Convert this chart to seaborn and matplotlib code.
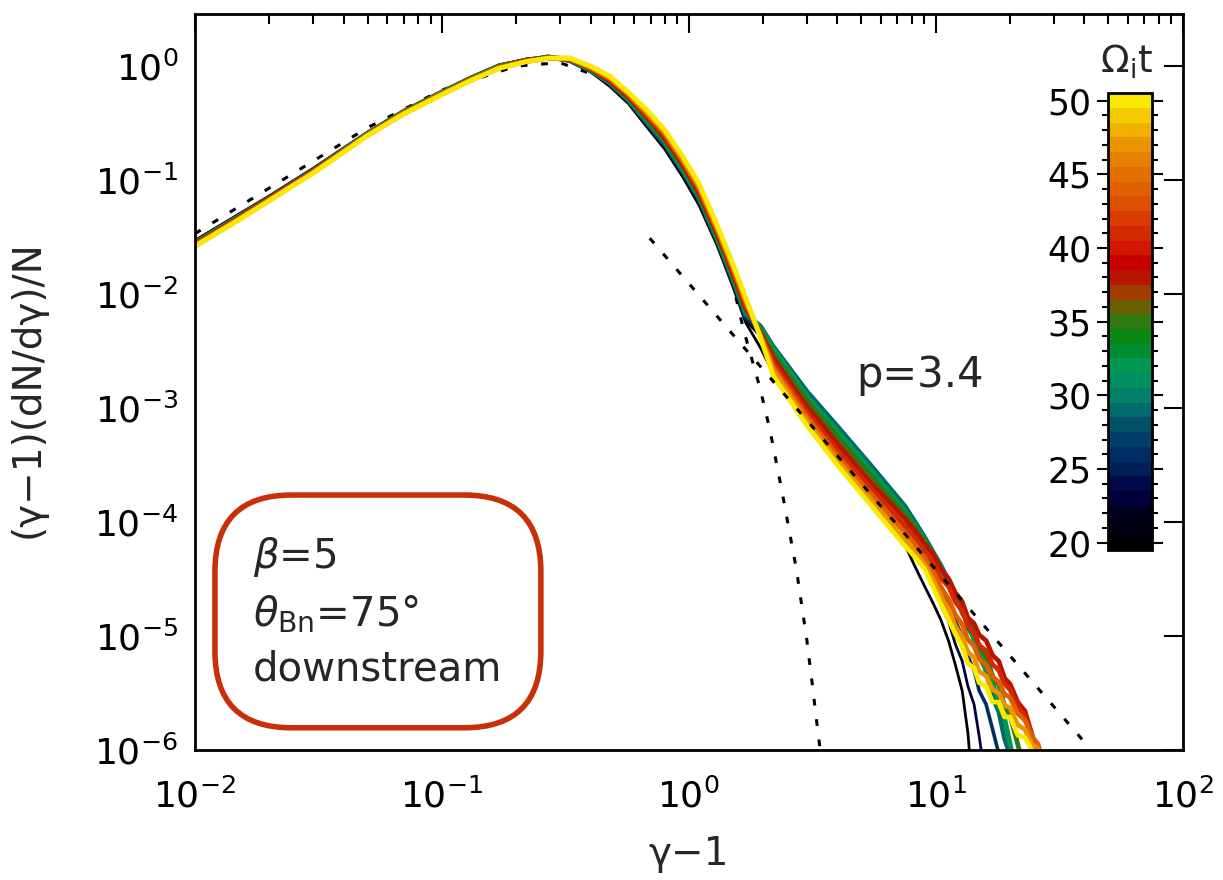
import numpy as np
import pandas as pd
import matplotlib
matplotlib.use("Agg")
import matplotlib.pyplot as plt
import seaborn as sns
from matplotlib.colors import ListedColormap, BoundaryNorm
from matplotlib.cm import ScalarMappable
from matplotlib.ticker import LogLocator, NullLocator, FixedLocator

sns.set_theme(style="white")
plt.rcParams['font.family'] = ['DejaVu Sans']
plt.rcParams['mathtext.fontset'] = 'dejavusans'

# ==========================
# Data (values are log10 of (g-1) dN/dg / N)
# ==========================

# thermal part, then the tail
gamma_m1 = [0.01, 0.015, 0.02, 0.03, 0.05, 0.07, 0.1, 0.13, 0.17, 0.22, 0.27,
            0.33, 0.4, 0.48, 0.57, 0.68, 0.8, 0.95, 1.1, 1.3, 1.5, 1.7,
            1.95, 2.2, 2.6, 3.0, 4.0, 5.5, 7.5, 8.2, 9.0, 9.8, 10.5, 11.3, 12,
            12.8, 13.5, 14.3, 15, 16, 17, 18, 19, 20, 21.5, 23, 24.5, 26, 27.5, 29]

nan = np.nan
logf_t20 = [-1.53, -1.30, -1.14, -0.90, -0.58, -0.39, -0.22, -0.10, 0.01, 0.06, 0.08,
            0.04, -0.05, -0.18, -0.33, -0.54, -0.73, -0.98, -1.22, -1.57, -1.92, -2.25,
            -2.47, -2.70, -2.92, -3.10, -3.45, -3.82, -4.20, -4.38, -4.56, -4.72, -4.86,
            -5.05, -5.25, -5.48, -5.85, -6.5, nan, nan, nan, nan, nan, nan, nan, nan,
            nan, nan, nan, nan]
logf_t23 = [-1.53, -1.31, -1.14, -0.90, -0.58, -0.39, -0.22, -0.10, 0.01, 0.06, 0.08,
            0.04, -0.05, -0.17, -0.32, -0.53, -0.71, -0.96, -1.20, -1.55, -1.90, -2.23,
            -2.37, -2.58, -2.80, -2.98, -3.32, -3.68, -4.06, -4.20, -4.38, -4.54, -4.73,
            -4.88, -5.07, -5.22, -5.44, -5.60, -5.88, -6.3, nan, nan, nan, nan, nan, nan,
            nan, nan, nan, nan]
logf_t26 = [-1.54, -1.31, -1.15, -0.91, -0.59, -0.40, -0.23, -0.11, 0.00, 0.06, 0.08,
            0.05, -0.04, -0.16, -0.31, -0.51, -0.70, -0.94, -1.18, -1.53, -1.88, -2.21,
            -2.32, -2.50, -2.72, -2.90, -3.22, -3.58, -3.96, -4.10, -4.27, -4.41, -4.57,
            -4.71, -4.87, -5.00, -5.18, -5.30, -5.48, -5.60, -5.82, -6.03, -6.4, nan, nan,
            nan, nan, nan, nan, nan]
logf_t29 = [-1.55, -1.32, -1.15, -0.91, -0.59, -0.40, -0.23, -0.11, 0.00, 0.05, 0.08,
            0.05, -0.04, -0.15, -0.30, -0.50, -0.68, -0.93, -1.16, -1.52, -1.86, -2.18,
            -2.28, -2.46, -2.67, -2.85, -3.16, -3.51, -3.86, -3.99, -4.13, -4.27, -4.38,
            -4.52, -4.63, -4.74, -4.93, -5.01, -5.18, -5.30, -5.54, -5.66, -5.90, -6.05,
            -6.5, nan, nan, nan, nan, nan]
logf_t32 = [-1.55, -1.32, -1.16, -0.92, -0.59, -0.40, -0.23, -0.11, 0.00, 0.05, 0.08,
            0.05, -0.03, -0.14, -0.29, -0.48, -0.66, -0.91, -1.14, -1.50, -1.84, -2.16,
            -2.30, -2.48, -2.70, -2.89, -3.20, -3.55, -3.90, -4.02, -4.15, -4.29, -4.39,
            -4.54, -4.63, -4.80, -4.87, -5.04, -5.10, -5.31, -5.40, -5.61, -5.72, -5.94,
            -6.3, nan, nan, nan, nan, nan]
logf_t35 = [-1.56, -1.33, -1.16, -0.92, -0.60, -0.41, -0.24, -0.12, -0.01, 0.05, 0.08,
            0.06, -0.03, -0.14, -0.28, -0.47, -0.65, -0.89, -1.13, -1.48, -1.82, -2.14,
            -2.32, -2.52, -2.74, -2.93, -3.25, -3.60, -3.93, -4.04, -4.17, -4.28, -4.41,
            -4.51, -4.64, -4.73, -4.88, -4.96, -5.09, -5.18, -5.35, -5.43, -5.61, -5.70,
            -5.95, -6.2, nan, nan, nan, nan]
logf_t38 = [-1.56, -1.33, -1.16, -0.92, -0.60, -0.41, -0.24, -0.12, -0.01, 0.05, 0.07,
            0.06, -0.02, -0.13, -0.27, -0.45, -0.63, -0.87, -1.11, -1.46, -1.80, -2.12,
            -2.34, -2.56, -2.79, -2.98, -3.31, -3.66, -3.97, -4.07, -4.19, -4.29, -4.41,
            -4.50, -4.62, -4.70, -4.84, -4.89, -4.99, -5.04, -5.17, -5.22, -5.37, -5.42,
            -5.58, -5.66, -5.86, -6.1, nan, nan]
logf_t41 = [-1.57, -1.34, -1.17, -0.93, -0.60, -0.41, -0.24, -0.12, -0.01, 0.05, 0.07,
            0.06, -0.02, -0.12, -0.26, -0.44, -0.61, -0.85, -1.09, -1.44, -1.78, -2.10,
            -2.35, -2.60, -2.83, -3.03, -3.37, -3.71, -4.03, -4.13, -4.25, -4.36, -4.49,
            -4.57, -4.70, -4.78, -4.91, -4.97, -5.08, -5.13, -5.25, -5.30, -5.42, -5.47,
            -5.62, -5.70, -5.87, -5.99, -6.3, nan]
logf_t44 = [-1.57, -1.34, -1.17, -0.93, -0.60, -0.41, -0.24, -0.12, -0.01, 0.04, 0.07,
            0.06, -0.01, -0.11, -0.25, -0.42, -0.59, -0.84, -1.07, -1.43, -1.76, -2.07,
            -2.36, -2.64, -2.87, -3.07, -3.42, -3.76, -4.09, -4.19, -4.31, -4.44, -4.57,
            -4.68, -4.81, -4.90, -5.03, -5.09, -5.20, -5.25, -5.36, -5.40, -5.51, -5.54,
            -5.68, -5.74, -5.88, -5.95, -6.15, -6.5]
logf_t47 = [-1.58, -1.35, -1.18, -0.94, -0.61, -0.42, -0.25, -0.13, -0.02, 0.04, 0.07,
            0.07, -0.01, -0.10, -0.24, -0.41, -0.58, -0.82, -1.05, -1.41, -1.74, -2.05,
            -2.37, -2.67, -2.91, -3.11, -3.46, -3.81, -4.15, -4.25, -4.37, -4.51, -4.65,
            -4.77, -4.91, -5.01, -5.14, -5.19, -5.31, -5.35, -5.47, -5.50, -5.61, -5.63,
            -5.78, -5.82, -5.95, -5.99, -6.2, -6.6]
logf_t50 = [-1.58, -1.35, -1.18, -0.94, -0.61, -0.42, -0.25, -0.13, -0.02, 0.04, 0.07,
            0.07, 0.00, -0.09, -0.23, -0.39, -0.56, -0.80, -1.03, -1.39, -1.72, -2.03,
            -2.38, -2.72, -2.95, -3.15, -3.50, -3.86, -4.21, -4.30, -4.41, -4.58, -4.72,
            -4.86, -4.98, -5.09, -5.24, -5.28, -5.41, -5.44, -5.58, -5.58, -5.71, -5.71,
            -5.87, -5.89, -6.00, -6.05, -6.25, -6.6]

times = [20, 23, 26, 29, 32, 35, 38, 41, 44, 47, 50]
curves = [logf_t20, logf_t23, logf_t26, logf_t29, logf_t32, logf_t35,
          logf_t38, logf_t41, logf_t44, logf_t47, logf_t50]

# Maxwellian fit (dashed)
maxw_x = [0.01, 0.02, 0.05, 0.1, 0.2, 0.3, 0.45, 0.7, 1.0, 1.2, 1.44, 1.67,
          1.94, 2.13, 2.38, 2.73, 3.0, 3.15, 3.3, 3.45]
maxw_logf = [-1.47, -1.07, -0.54, -0.21, 0.0, 0.03, -0.105, -0.47, -0.91, -1.23,
             -1.73, -2.32, -2.82, -3.19, -3.72, -4.42, -5.02, -5.39, -5.76, -6.1]

# power law p=3.4 (dashed)
plaw_x = [0.695, 40.0]
plaw_logf = [-1.51, -5.93]

# colour table Omega_i t = 20 ... 50
cbar_times = list(range(20, 51))
cbar_colors = ["#000004", "#000010", "#00001e", "#00003a", "#000a4a", "#002058",
               "#002e62", "#003e6a", "#005068", "#006a6c", "#008068", "#009060",
               "#009850", "#008c30", "#0a8a14", "#2e7a10", "#6a6000", "#a03c00",
               "#b81400", "#c80000", "#d01800", "#d42800", "#d83c00", "#dc5000",
               "#e06000", "#e27000", "#e68000", "#ea9400", "#f0b000", "#f4cc00",
               "#f8ea00"]

# ==========================
# Build table
# ==========================

rows = []
for t, logf in zip(times, curves):
    for g, lf in zip(gamma_m1, logf):
        if not np.isnan(lf):
            rows.append({"gamma_m1": g, "f": 10 ** lf, "t": t})
df = pd.DataFrame(rows)

palette = {t: cbar_colors[cbar_times.index(t)] for t in times}
# early (dark) spectra are thinner lines
widths = {t: (2.0 if t < 26 else 2.6 if t < 29 else 3.4) for t in times}

# ==========================
# Plot
# ==========================

fig = plt.figure(figsize=(12.23, 8.8), dpi=100)
ax = fig.add_axes([0.1594, 0.1477, 0.8076, 0.8363])

ax.plot(maxw_x, 10 ** np.array(maxw_logf), color="black", lw=2.2,
        ls=(0, (2.2, 4.5)), zorder=1)

sns.lineplot(data=df, x="gamma_m1", y="f", hue="t", palette=palette,
             hue_order=times, size="t", sizes=widths, size_order=times,
             estimator=None, sort=False, legend=False, ax=ax, zorder=2)

ax.plot(plaw_x, 10 ** np.array(plaw_logf), color="black", lw=2.2,
        ls=(0, (2.2, 4.5)), zorder=3)

ax.set_xscale("log")
ax.set_yscale("log")
ax.set_xlim(1e-2, 1e2)
ax.set_ylim(1e-6, 2.86)

ax.xaxis.set_major_locator(LogLocator(base=10, numticks=10))
ax.xaxis.set_minor_locator(LogLocator(base=10, subs=np.arange(2, 10), numticks=20))
ax.yaxis.set_major_locator(LogLocator(base=10, numticks=10))
ax.yaxis.set_minor_locator(NullLocator())

ax.tick_params(which="both", direction="in", top=True, right=True,
               width=1.5, colors="black", labelsize=26)
ax.tick_params(which="major", length=14)
ax.tick_params(which="minor", length=7)
ax.tick_params(axis="x", which="major", pad=20)
ax.tick_params(axis="y", which="major", pad=12)
for s in ax.spines.values():
    s.set_color("black")
    s.set_linewidth(2)

ax.set_xlabel("γ−1", fontsize=28)
ax.set_ylabel("(γ−1)(dN/dγ)/N", fontsize=28)
ax.xaxis.set_label_coords(0.5, -0.115)
ax.yaxis.set_label_coords(-0.150, 0.49)

ax.text(0.670, 0.51, "p=3.4", transform=ax.transAxes, ha="left", va="center",
        fontsize=30)

ax.text(0.059, 0.187, "$\\beta$=5\n$\\theta_{\\rm Bn}$=75°\ndownstream",
        transform=ax.transAxes, ha="left", va="center", fontsize=29,
        linespacing=1.45,
        bbox=dict(boxstyle="round,pad=0.95,rounding_size=1.9", fc="none",
                  ec="#c8300a", lw=4))

# ==========================
# Colour bar
# ==========================

cax = fig.add_axes([0.906, 0.375, 0.036, 0.519])
cmap = ListedColormap(cbar_colors)
norm = BoundaryNorm(np.arange(19.5, 51.5, 1), cmap.N)
cb = fig.colorbar(ScalarMappable(norm=norm, cmap=cmap), cax=cax,
                  ticks=[20, 25, 30, 35, 40, 45, 50])
cb.outline.set_linewidth(2)
cb.outline.set_edgecolor("black")
cax.yaxis.set_ticks_position("both")
cax.yaxis.set_minor_locator(FixedLocator(cbar_times))
cax.tick_params(which="both", direction="out", left=True, right=True,
                labelleft=True, labelright=False, width=1.5, colors="black",
                labelsize=25)
cax.tick_params(which="major", length=8, pad=4)
cax.tick_params(which="minor", length=4)

fig.text(0.921, 0.93, "$\\Omega_{\\rm i}$t", ha="center", va="center", fontsize=27)

plt.savefig("out.png", dpi=100)
